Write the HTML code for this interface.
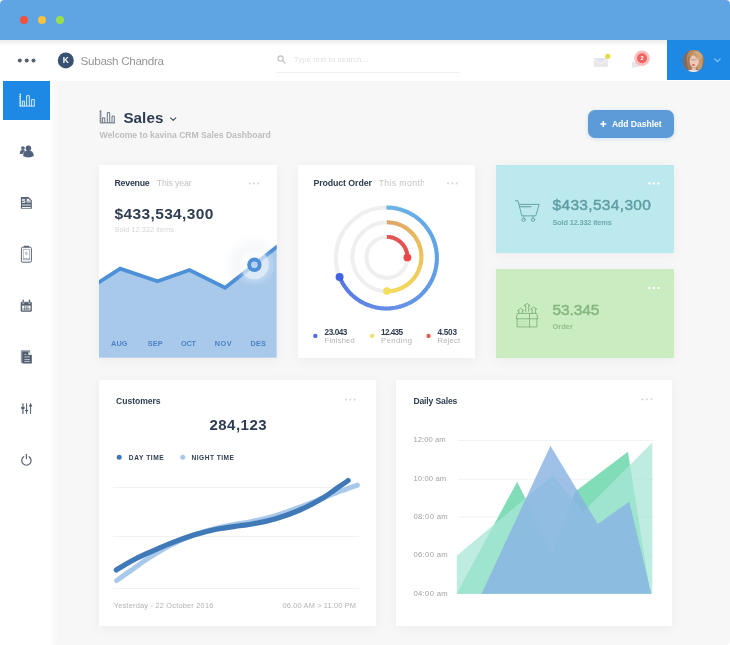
<!DOCTYPE html>
<html lang="en">
<head>
<meta charset="utf-8">
<title>kavina CRM Sales Dashboard</title>
<style>
html,body{margin:0;padding:0;}
body{width:730px;height:645px;overflow:hidden;background:#fff;font-family:"Liberation Sans",sans-serif;}
#app{position:relative;width:730px;height:645px;overflow:hidden;background:#f7f7f7;border-radius:4px;}
.abs{position:absolute;}
.t{position:absolute;line-height:20px;height:20px;white-space:nowrap;}
#titlebar{left:0;top:0;width:730px;height:40px;background:#60a5e3;border-radius:4px 4px 0 0;}
.dot{position:absolute;width:8px;height:8px;border-radius:50%;top:16px;}
#header{left:0;top:40px;width:730px;height:41px;background:#fff;}
#hshadow{left:0;top:40px;width:667px;height:6px;background:linear-gradient(#ececec,rgba(255,255,255,0));}
#sidebar{left:0;top:81px;width:50px;height:564px;background:#fff;}
#active{left:3px;top:81px;width:47px;height:39px;background:#1e88e5;}
#user{left:667px;top:40px;width:63px;height:40px;background:#1e88e5;}
.card{position:absolute;background:#fff;box-shadow:0 2px 12px rgba(0,0,0,0.05);}
#searchline{left:276px;top:72px;width:184px;height:1px;background:#f0f0f0;}
#addbtn{left:588px;top:110px;width:86px;height:28px;background:#5c9bd8;border-radius:7px;box-shadow:0 1px 4px rgba(92,155,216,0.25);}
svg{position:absolute;left:0;top:0;}
</style>
</head>
<body>
<div id="app">
<div class="abs" id="header"></div>
<div class="abs" id="hshadow"></div>
<div class="abs" id="titlebar">
  <div class="dot" style="left:20px;background:#f4513a"></div>
  <div class="dot" style="left:38px;background:#f9c13f"></div>
  <div class="dot" style="left:56px;background:#98df4f"></div>
</div>
<div class="abs" id="sidebar"></div>
<div class="abs" id="sbfade" style="left:50px;top:81px;width:9px;height:564px;background:linear-gradient(to right,rgba(255,255,255,0.8),rgba(255,255,255,0));"></div>
<div class="abs" id="active"></div>
<div class="abs" id="user"></div>
<div class="abs" id="searchline"></div>
<div class="abs" id="addbtn"></div>

<div class="card" id="c_rev" style="left:99px;top:165.300px;width:177.700px;height:192.500px;"></div>
<div class="card" id="c_po" style="left:298.200px;top:165.300px;width:176.800px;height:192.500px;"></div>
<div class="card" id="c_cyan" style="left:496px;top:165px;width:177.500px;height:88.300px;background:#bce9ed;"></div>
<div class="card" id="c_green" style="left:496px;top:268.700px;width:177.500px;height:89.300px;background:#c9ecc0;"></div>
<div class="card" id="c_cust" style="left:99.400px;top:380.400px;width:276.500px;height:246px;"></div>
<div class="card" id="c_daily" style="left:395.800px;top:380.400px;width:276.600px;height:246px;"></div>

<svg width="730" height="645" viewBox="0 0 730 645">
<defs>
<radialGradient id="halo" cx="0.5" cy="0.5" r="0.5">
 <stop offset="0" stop-color="#fff" stop-opacity="0"/>
 <stop offset="0.660" stop-color="#fff" stop-opacity="0"/>
 <stop offset="0.670" stop-color="#fff" stop-opacity="0.260"/>
 <stop offset="1" stop-color="#fff" stop-opacity="0"/>
</radialGradient>
<radialGradient id="haze" cx="0.5" cy="0.5" r="0.5">
 <stop offset="0" stop-color="#5a6f90" stop-opacity="0.080"/>
 <stop offset="0.450" stop-color="#5a6f90" stop-opacity="0.070"/>
 <stop offset="1" stop-color="#5a6f90" stop-opacity="0"/>
</radialGradient>
<clipPath id="abovec"><path d="M97 165H279V245L254.300 264.800L225.100 287.800L189.500 270L157.500 281.300L120.200 268.600L97 283.500z"/></clipPath>
<clipPath id="revclip"><rect x="99" y="165.300" width="177.700" height="192.500"/></clipPath>
</defs>

<!-- header: menu dots -->
<g fill="#56606e"><circle cx="19.800" cy="60.500" r="2"/><circle cx="26.700" cy="60.500" r="2"/><circle cx="33.500" cy="60.500" r="2"/></g>
<!-- K avatar -->
<circle cx="65.800" cy="60.400" r="8" fill="#3a5272"/>
<text x="65.900" y="63.300" font-size="8.400" font-weight="700" fill="#fff" text-anchor="middle" font-family="Liberation Sans, sans-serif">K</text>
<!-- search icon -->
<g fill="none" stroke="#c6c6c6" stroke-width="1.300"><circle cx="280.600" cy="58.600" r="2.600"/><path d="M282.6 60.7L285 63.2" stroke-linecap="round"/></g>

<!-- mail -->
<g>
 <rect x="594" y="58.300" width="13.800" height="8.600" rx="0.600" fill="#e8e8e8"/>
 <path d="M594 58.300h13.800l-6.900 5z" fill="#e2e2ec"/>
 <path d="M594 58.600L600.900 63.500L607.800 58.600" fill="none" stroke="#f6f6f8" stroke-width="0.900"/>
 <circle cx="607.800" cy="56.300" r="2.600" fill="#dde040"/>
</g>
<!-- notification -->
<g>
 <path d="M632 62h7.500v5h-5l-2.200 1.800v-1.800h-0.300z" fill="#e6e6e6"/>
 <circle cx="642" cy="58.300" r="7.800" fill="#f8b4b4" fill-opacity="0.850"/>
 <circle cx="642" cy="58.300" r="5" fill="#f06262"/>
 <text x="642" y="60.300" font-size="5.600" font-weight="700" fill="#fff" text-anchor="middle" font-family="Liberation Sans, sans-serif">2</text>
</g>
<!-- user avatar -->
<g>
 <clipPath id="avc"><ellipse cx="693.500" cy="61" rx="10.600" ry="11"/></clipPath>
 <filter id="avb" x="-20%" y="-20%" width="140%" height="140%"><feGaussianBlur stdDeviation="0.700"/></filter>
 <g clip-path="url(#avc)">
  <rect x="680" y="48" width="28" height="28" fill="#8d6f60"/>
  <g filter="url(#avb)">
   <rect x="680" y="48" width="9" height="28" fill="#7f6a64"/>
   <ellipse cx="695" cy="59" rx="8.500" ry="10.500" fill="#b88a62"/>
   <ellipse cx="697.500" cy="56" rx="5" ry="5.500" fill="#d2a777"/>
   <ellipse cx="689.500" cy="63" rx="2.200" ry="7" fill="#a87a55"/>
   <ellipse cx="699.800" cy="65" rx="2.400" ry="6" fill="#c59b6e"/>
   <ellipse cx="694.200" cy="61.200" rx="4.600" ry="6.300" fill="#ecc8b6"/>
   <ellipse cx="693.600" cy="59.800" rx="3.400" ry="0.700" fill="#c9a392"/>
   <path d="M689 57.500c1.500-3.500 4-4.500 6.500-4.500c1.500 2 2.500 4 2.500 7c-1.500-2.500-3-4.300-5-5c-1.500 0.500-3 1.500-4 2.500z" fill="#c4986a"/>
   <ellipse cx="693.500" cy="65" rx="1.600" ry="0.800" fill="#e2453d"/>
   <path d="M684 73.500c2-3 5.500-3.800 9.500-3.800s7 0.800 9 3.800v3h-18.500z" fill="#e9eef5"/>
   <ellipse cx="693.800" cy="69" rx="2.300" ry="1.800" fill="#e6c0ad"/>
  </g>
 </g>
</g>
<path d="M714.600 58.900L717.400 61.700L720.200 58.900" fill="none" stroke="#8ccbf9" stroke-width="1.100" stroke-linecap="round" stroke-linejoin="round"/>

<!-- Sales title icon -->
<g fill="none" stroke="#5a6675" stroke-width="0.900">
 <path d="M100.800 110.100v13.200"/>
 <path d="M99.400 111.300h1.400M99.400 113.100h1.400M99.400 114.900h1.400M99.400 116.700h1.400M99.400 118.500h1.400M99.400 120.300h1.400M99.400 122.100h1.400" stroke-width="0.700"/>
 <path d="M100.800 122.900h14.100"/>
 <path d="M102.600 122.900v-5.100h2.200v5.100M107.300 122.900v-10.300h2.400v10.300M112 122.900v-6.800h2.300v6.800"/>
</g>
<path d="M170.600 117.800L173.200 120.300L175.800 117.800" fill="none" stroke="#3a4a60" stroke-width="1.100" stroke-linecap="round" stroke-linejoin="round"/>
<!-- add button plus -->
<path d="M600.400 124h5.800M603.300 121.100v5.800" stroke="#fff" stroke-width="1.600"/>

<!-- sidebar active icon -->
<g fill="none" stroke="#d4ebff" stroke-width="1">
 <path d="M20.400 93.400v13.200"/>
 <path d="M18.900 94.700h1.500M18.900 96.500h1.500M18.900 98.400h1.500M18.900 100.200h1.500M18.900 102h1.500M18.900 103.800h1.500M18.900 105.600h1.500" stroke-width="0.800"/>
 <path d="M20.400 106.100h14.400"/>
 <path d="M22.400 106.100v-5h2v5M26.600 106.100v-10.400h2.700v10.400M31.600 106.100v-6.500h2.700v6.500"/>
</g>
<!-- users -->
<g fill="#50627e">
 <circle cx="22.900" cy="148.100" r="1.900" fill="#586a85"/>
 <path d="M19.700 153.900c0-2.800 1.300-4.100 3.200-4.100s3.200 1.300 3.200 4.100z" fill="#586a85"/>
 <g stroke="#fff" stroke-width="1">
  <circle cx="28.400" cy="148.200" r="2.700"/>
  <path d="M23.200 155.900c0-3.700 2.100-5.400 5.200-5.400s5.200 1.700 5.200 5.400c-1.400 0.900-3.200 1.300-5.200 1.300s-3.800-0.400-5.200-1.300z"/>
 </g>
 <circle cx="28.400" cy="148.200" r="2.700"/>
 <path d="M23.200 155.900c0-3.700 2.100-5.400 5.200-5.400s5.200 1.700 5.200 5.400c-1.400 0.900-3.200 1.300-5.200 1.300s-3.800-0.400-5.200-1.300z"/>
</g>
<!-- invoice doc -->
<g>
 <path d="M20.900 196.900h7.500l3.400 3.400v8.500h-10.900z" fill="#55616f"/>
 <path d="M25.100 199.300h-2.700v1.500h2.500v1.600h-2.800" fill="none" stroke="#fff" stroke-width="0.900"/>
 <path d="M26.600 198.800h2.100l2 2v1.600h-4.100z" fill="#eef1f4"/>
 <path d="M27 201.200h3.400" stroke="#6a7583" stroke-width="0.600"/>
 <path d="M22 205h8.700" stroke="#b3bac3" stroke-width="1.300"/>
 <path d="M22 207.600h8.700" stroke="#fff" stroke-width="1"/>
</g>
<!-- clipboard -->
<g fill="none">
 <rect x="21.400" y="247.200" width="10" height="15" rx="1.300" stroke="#5b6674" stroke-width="1"/>
 <path d="M24.300 246.500h4.300" stroke="#5b6674" stroke-width="1.400" stroke-linecap="round"/>
 <rect x="23.300" y="249.600" width="6.200" height="10.200" stroke="#a3abb6" stroke-width="0.800"/>
 <rect x="25" y="251.500" width="2.600" height="3.800" rx="1" fill="#c3cad4"/>
 <path d="M23.500 259.300l2-1l1.500 0.600h2.600" stroke="#6a7583" stroke-width="0.700"/>
</g>
<!-- calendar -->
<g>
 <rect x="20.700" y="301.800" width="11.100" height="9.900" rx="1.200" fill="#55616f"/>
 <path d="M23.200 300.100v3.200M29.500 300.100v3.200" stroke="#55616f" stroke-width="1.300" stroke-linecap="round"/>
 <path d="M22.300 301.800h0.200v1.700h1.400v-1.700h4.900v1.700h1.400v-1.700h0.200" fill="none" stroke="#fff" stroke-width="0.500" opacity="0.800"/>
 <rect x="22.100" y="305.600" width="8.400" height="4.800" fill="#fff"/>
 <path d="M24.600 305.600v4.800M26.300 305.600v4.800M28 305.600v4.800M22.100 308.900h8.400" stroke="#55616f" stroke-width="0.700"/>
</g>
<!-- docs -->
<g>
 <path d="M20.900 350.200h9.200v12.500h-9.200z" fill="#8c96a3"/>
 <path d="M22.400 351.700h6l3.400 3.400v8.500h-9.400z" fill="#4f5c6d"/>
 <path d="M28.400 351.700v3.400h3.400z" fill="#f4f6f8"/>
 <path d="M24.400 354.400h2M24.400 356.900h5.400M24.400 359.400h5.400M24.400 361.400h5.400" stroke="#dfe4ea" stroke-width="0.800"/>
</g>
<!-- sliders -->
<g>
 <path d="M22.900 403.300v10.600" stroke="#9099a6" stroke-width="1.900"/>
 <rect x="21" y="406.900" width="3.800" height="2" rx="0.800" fill="#55616f"/>
 <path d="M26.600 403.300v10.600M30.600 403.300v10.600" stroke="#55616f" stroke-width="1"/>
 <path d="M25.100 410.200h3l-1.500 2.400z" fill="#55616f"/>
 <rect x="25.100" y="409.800" width="3" height="1.200" fill="#55616f"/>
 <path d="M29.100 406h3l-1.500-2.400z" fill="#55616f"/>
 <rect x="29.100" y="405.300" width="3" height="1.200" fill="#55616f"/>
</g>
<!-- power -->
<g fill="none" stroke="#59636f" stroke-width="1.200" stroke-linecap="round">
 <path d="M23.700 456.700A4.700 4.700 0 1 0 29.100 456.700"/>
 <path d="M26.400 454.300v4.300"/>
</g>


<!-- card dots -->
<g fill="#d5dbe3">
 <circle cx="249.800" cy="183.400" r="1.100"/><circle cx="253.900" cy="183.400" r="1.100"/><circle cx="258" cy="183.400" r="1.100"/>
 <circle cx="448.100" cy="183.400" r="1.100"/><circle cx="452.400" cy="183.400" r="1.100"/><circle cx="456.700" cy="183.400" r="1.100"/>
 <circle cx="346" cy="399.600" r="1.100"/><circle cx="350.300" cy="399.600" r="1.100"/><circle cx="354.600" cy="399.600" r="1.100"/>
 <circle cx="642.400" cy="399.300" r="1.100"/><circle cx="646.900" cy="399.300" r="1.100"/><circle cx="651.400" cy="399.300" r="1.100"/>
</g>
<g fill="#ffffff">
 <circle cx="649.400" cy="183.400" r="1.200"/><circle cx="653.900" cy="183.400" r="1.200"/><circle cx="658.400" cy="183.400" r="1.200"/>
 <circle cx="649.400" cy="288" r="1.200"/><circle cx="653.900" cy="288" r="1.200"/><circle cx="658.400" cy="288" r="1.200"/>
</g>

<!-- revenue chart -->
<g clip-path="url(#revclip)">
 <path d="M97 283.500L120.200 268.600L157.500 281.300L189.500 270L225.100 287.800L254.300 264.800L279 245V358H97z" fill="#a9c9eb"/>
 <path d="M97 283.500L120.200 268.600L157.500 281.300L189.500 270L225.100 287.800L254.300 264.800L279 245" fill="none" stroke="#4e90d8" stroke-width="3.800" stroke-linejoin="miter"/>
 <g clip-path="url(#abovec)"><circle cx="254.400" cy="266" r="32" fill="url(#haze)"/></g>
 <circle cx="254.400" cy="264.800" r="21.500" fill="url(#halo)"/>
 <circle cx="254.400" cy="264.800" r="14.400" fill="#fff" fill-opacity="0.600"/>
 <circle cx="254.400" cy="264.800" r="5.300" fill="#b5d2f0" stroke="#4e8fd8" stroke-width="3.800"/>
</g>

<!-- donut -->
<circle cx="386.4" cy="258.0" r="50.5" fill="none" stroke="#efefef" stroke-width="4"/>
<circle cx="386.9" cy="256.8" r="34.5" fill="none" stroke="#efefef" stroke-width="4"/>
<circle cx="386.9" cy="257.4" r="20.5" fill="none" stroke="#efefef" stroke-width="4"/>
<path d="M386.40 207.50A50.5 50.5 0 0 1 390.63 207.68" stroke="#6cb4e6" stroke-width="4" fill="none"/>
<path d="M389.92 207.62A50.5 50.5 0 0 1 394.13 208.09" stroke="#6bb3e6" stroke-width="4" fill="none"/>
<path d="M393.43 207.99A50.5 50.5 0 0 1 397.59 208.75" stroke="#6bb2e6" stroke-width="4" fill="none"/>
<path d="M396.90 208.60A50.5 50.5 0 0 1 401.00 209.66" stroke="#6ab1e6" stroke-width="4" fill="none"/>
<path d="M400.32 209.46A50.5 50.5 0 0 1 404.33 210.79" stroke="#69b0e6" stroke-width="4" fill="none"/>
<path d="M403.67 210.55A50.5 50.5 0 0 1 407.58 212.16" stroke="#69afe6" stroke-width="4" fill="none"/>
<path d="M406.94 211.87A50.5 50.5 0 0 1 410.73 213.75" stroke="#68afe6" stroke-width="4" fill="none"/>
<path d="M410.11 213.41A50.5 50.5 0 0 1 413.76 215.55" stroke="#68aee6" stroke-width="4" fill="none"/>
<path d="M413.16 215.17A50.5 50.5 0 0 1 416.65 217.56" stroke="#67ade6" stroke-width="4" fill="none"/>
<path d="M416.08 217.14A50.5 50.5 0 0 1 419.40 219.77" stroke="#66ace6" stroke-width="4" fill="none"/>
<path d="M418.86 219.31A50.5 50.5 0 0 1 421.98 222.17" stroke="#66abe6" stroke-width="4" fill="none"/>
<path d="M421.48 221.67A50.5 50.5 0 0 1 424.40 224.74" stroke="#65aae6" stroke-width="4" fill="none"/>
<path d="M423.93 224.21A50.5 50.5 0 0 1 426.62 227.47" stroke="#65aae6" stroke-width="4" fill="none"/>
<path d="M426.19 226.91A50.5 50.5 0 0 1 428.66 230.35" stroke="#64a9e6" stroke-width="4" fill="none"/>
<path d="M428.27 229.76A50.5 50.5 0 0 1 430.48 233.36" stroke="#63a8e6" stroke-width="4" fill="none"/>
<path d="M430.13 232.75A50.5 50.5 0 0 1 432.09 236.50" stroke="#63a7e6" stroke-width="4" fill="none"/>
<path d="M431.79 235.86A50.5 50.5 0 0 1 433.48 239.74" stroke="#62a6e6" stroke-width="4" fill="none"/>
<path d="M433.22 239.08A50.5 50.5 0 0 1 434.64 243.07" stroke="#62a5e6" stroke-width="4" fill="none"/>
<path d="M434.43 242.39A50.5 50.5 0 0 1 435.57 246.47" stroke="#61a5e6" stroke-width="4" fill="none"/>
<path d="M435.40 245.78A50.5 50.5 0 0 1 436.25 249.93" stroke="#60a4e6" stroke-width="4" fill="none"/>
<path d="M436.13 249.23A50.5 50.5 0 0 1 436.69 253.42" stroke="#60a3e6" stroke-width="4" fill="none"/>
<path d="M436.62 252.72A50.5 50.5 0 0 1 436.89 256.94" stroke="#5fa2e6" stroke-width="4" fill="none"/>
<path d="M436.87 256.24A50.5 50.5 0 0 1 436.84 260.47" stroke="#5fa1e6" stroke-width="4" fill="none"/>
<path d="M436.87 259.76A50.5 50.5 0 0 1 436.54 263.98" stroke="#60a1e6" stroke-width="4" fill="none"/>
<path d="M436.62 263.28A50.5 50.5 0 0 1 436.01 267.46" stroke="#60a0e6" stroke-width="4" fill="none"/>
<path d="M436.13 266.77A50.5 50.5 0 0 1 435.22 270.90" stroke="#609fe6" stroke-width="4" fill="none"/>
<path d="M435.40 270.22A50.5 50.5 0 0 1 434.21 274.27" stroke="#619ee6" stroke-width="4" fill="none"/>
<path d="M434.43 273.61A50.5 50.5 0 0 1 432.95 277.57" stroke="#619de6" stroke-width="4" fill="none"/>
<path d="M433.22 276.92A50.5 50.5 0 0 1 431.48 280.77" stroke="#619ce6" stroke-width="4" fill="none"/>
<path d="M431.79 280.14A50.5 50.5 0 0 1 429.78 283.86" stroke="#629ce6" stroke-width="4" fill="none"/>
<path d="M430.13 283.25A50.5 50.5 0 0 1 427.87 286.82" stroke="#629be6" stroke-width="4" fill="none"/>
<path d="M428.27 286.24A50.5 50.5 0 0 1 425.76 289.64" stroke="#629ae6" stroke-width="4" fill="none"/>
<path d="M426.19 289.09A50.5 50.5 0 0 1 423.45 292.31" stroke="#6299e6" stroke-width="4" fill="none"/>
<path d="M423.93 291.79A50.5 50.5 0 0 1 420.97 294.81" stroke="#6398e6" stroke-width="4" fill="none"/>
<path d="M421.48 294.33A50.5 50.5 0 0 1 418.32 297.13" stroke="#6397e6" stroke-width="4" fill="none"/>
<path d="M418.86 296.69A50.5 50.5 0 0 1 415.51 299.27" stroke="#6397e6" stroke-width="4" fill="none"/>
<path d="M416.08 298.86A50.5 50.5 0 0 1 412.56 301.20" stroke="#6496e6" stroke-width="4" fill="none"/>
<path d="M413.16 300.83A50.5 50.5 0 0 1 409.48 302.92" stroke="#6495e6" stroke-width="4" fill="none"/>
<path d="M410.11 302.59A50.5 50.5 0 0 1 406.29 304.42" stroke="#6494e6" stroke-width="4" fill="none"/>
<path d="M406.94 304.13A50.5 50.5 0 0 1 403.01 305.69" stroke="#6593e6" stroke-width="4" fill="none"/>
<path d="M403.67 305.45A50.5 50.5 0 0 1 399.64 306.73" stroke="#6592e6" stroke-width="4" fill="none"/>
<path d="M400.32 306.54A50.5 50.5 0 0 1 396.21 307.54" stroke="#6592e6" stroke-width="4" fill="none"/>
<path d="M396.90 307.40A50.5 50.5 0 0 1 392.73 308.10" stroke="#6691e6" stroke-width="4" fill="none"/>
<path d="M393.43 308.01A50.5 50.5 0 0 1 389.22 308.42" stroke="#6690e6" stroke-width="4" fill="none"/>
<path d="M389.92 308.38A50.5 50.5 0 0 1 385.69 308.50" stroke="#658fe6" stroke-width="4" fill="none"/>
<path d="M386.40 308.50A50.5 50.5 0 0 1 382.17 308.32" stroke="#648de6" stroke-width="4" fill="none"/>
<path d="M382.88 308.38A50.5 50.5 0 0 1 378.67 307.91" stroke="#638ce6" stroke-width="4" fill="none"/>
<path d="M379.37 308.01A50.5 50.5 0 0 1 375.21 307.25" stroke="#628ae6" stroke-width="4" fill="none"/>
<path d="M375.90 307.40A50.5 50.5 0 0 1 371.80 306.34" stroke="#6189e6" stroke-width="4" fill="none"/>
<path d="M372.48 306.54A50.5 50.5 0 0 1 368.47 305.21" stroke="#6088e6" stroke-width="4" fill="none"/>
<path d="M369.13 305.45A50.5 50.5 0 0 1 365.22 303.84" stroke="#6086e6" stroke-width="4" fill="none"/>
<path d="M365.86 304.13A50.5 50.5 0 0 1 362.07 302.25" stroke="#5f85e6" stroke-width="4" fill="none"/>
<path d="M362.69 302.59A50.5 50.5 0 0 1 359.04 300.45" stroke="#5e84e6" stroke-width="4" fill="none"/>
<path d="M359.64 300.83A50.5 50.5 0 0 1 356.15 298.44" stroke="#5d82e6" stroke-width="4" fill="none"/>
<path d="M356.72 298.86A50.5 50.5 0 0 1 353.40 296.23" stroke="#5c81e6" stroke-width="4" fill="none"/>
<path d="M353.94 296.69A50.5 50.5 0 0 1 350.82 293.83" stroke="#5b80e6" stroke-width="4" fill="none"/>
<path d="M351.32 294.33A50.5 50.5 0 0 1 348.40 291.26" stroke="#5a7ee6" stroke-width="4" fill="none"/>
<path d="M348.87 291.79A50.5 50.5 0 0 1 346.18 288.53" stroke="#597de6" stroke-width="4" fill="none"/>
<path d="M346.61 289.09A50.5 50.5 0 0 1 344.14 285.65" stroke="#587ce6" stroke-width="4" fill="none"/>
<path d="M344.53 286.24A50.5 50.5 0 0 1 342.32 282.64" stroke="#577ae6" stroke-width="4" fill="none"/>
<path d="M342.67 283.25A50.5 50.5 0 0 1 340.71 279.50" stroke="#5679e6" stroke-width="4" fill="none"/>
<path d="M341.01 280.14A50.5 50.5 0 0 1 339.58 276.92" stroke="#5578e6" stroke-width="4" fill="none"/>
<path d="M386.90 222.30A34.5 34.5 0 0 1 389.79 222.42" stroke="#dea568" stroke-width="4" fill="none"/>
<path d="M389.31 222.38A34.5 34.5 0 0 1 392.18 222.71" stroke="#dfa667" stroke-width="4" fill="none"/>
<path d="M391.70 222.64A34.5 34.5 0 0 1 394.54 223.16" stroke="#e0a866" stroke-width="4" fill="none"/>
<path d="M394.07 223.05A34.5 34.5 0 0 1 396.87 223.77" stroke="#e0a965" stroke-width="4" fill="none"/>
<path d="M396.41 223.64A34.5 34.5 0 0 1 399.15 224.55" stroke="#e1aa64" stroke-width="4" fill="none"/>
<path d="M398.70 224.38A34.5 34.5 0 0 1 401.37 225.48" stroke="#e2ac64" stroke-width="4" fill="none"/>
<path d="M400.93 225.28A34.5 34.5 0 0 1 403.52 226.57" stroke="#e2ad63" stroke-width="4" fill="none"/>
<path d="M403.10 226.34A34.5 34.5 0 0 1 405.59 227.80" stroke="#e3af62" stroke-width="4" fill="none"/>
<path d="M405.18 227.54A34.5 34.5 0 0 1 407.57 229.17" stroke="#e4b061" stroke-width="4" fill="none"/>
<path d="M407.18 228.89A34.5 34.5 0 0 1 409.44 230.68" stroke="#e5b260" stroke-width="4" fill="none"/>
<path d="M409.08 230.37A34.5 34.5 0 0 1 411.21 232.32" stroke="#e5b360" stroke-width="4" fill="none"/>
<path d="M410.87 231.98A34.5 34.5 0 0 1 412.86 234.08" stroke="#e6b45f" stroke-width="4" fill="none"/>
<path d="M412.54 233.71A34.5 34.5 0 0 1 414.38 235.94" stroke="#e7b65e" stroke-width="4" fill="none"/>
<path d="M414.09 235.56A34.5 34.5 0 0 1 415.77 237.91" stroke="#e7b75d" stroke-width="4" fill="none"/>
<path d="M415.50 237.51A34.5 34.5 0 0 1 417.02 239.97" stroke="#e8b95d" stroke-width="4" fill="none"/>
<path d="M416.78 239.55A34.5 34.5 0 0 1 418.12 242.11" stroke="#e9ba5c" stroke-width="4" fill="none"/>
<path d="M417.91 241.68A34.5 34.5 0 0 1 419.07 244.32" stroke="#e9bc5b" stroke-width="4" fill="none"/>
<path d="M418.89 243.88A34.5 34.5 0 0 1 419.86 246.60" stroke="#eabd5a" stroke-width="4" fill="none"/>
<path d="M419.71 246.14A34.5 34.5 0 0 1 420.49 248.92" stroke="#ebbe59" stroke-width="4" fill="none"/>
<path d="M420.38 248.45A34.5 34.5 0 0 1 420.96 251.28" stroke="#ebc059" stroke-width="4" fill="none"/>
<path d="M420.88 250.81A34.5 34.5 0 0 1 421.26 253.67" stroke="#ecc158" stroke-width="4" fill="none"/>
<path d="M421.21 253.19A34.5 34.5 0 0 1 421.39 256.08" stroke="#ecc258" stroke-width="4" fill="none"/>
<path d="M421.38 255.60A34.5 34.5 0 0 1 421.36 258.49" stroke="#edc458" stroke-width="4" fill="none"/>
<path d="M421.38 258.00A34.5 34.5 0 0 1 421.16 260.88" stroke="#edc558" stroke-width="4" fill="none"/>
<path d="M421.21 260.41A34.5 34.5 0 0 1 420.79 263.26" stroke="#edc658" stroke-width="4" fill="none"/>
<path d="M420.88 262.79A34.5 34.5 0 0 1 420.26 265.61" stroke="#edc758" stroke-width="4" fill="none"/>
<path d="M420.38 265.15A34.5 34.5 0 0 1 419.56 267.92" stroke="#eec859" stroke-width="4" fill="none"/>
<path d="M419.71 267.46A34.5 34.5 0 0 1 418.70 270.17" stroke="#eec959" stroke-width="4" fill="none"/>
<path d="M418.89 269.72A34.5 34.5 0 0 1 417.69 272.36" stroke="#eecb59" stroke-width="4" fill="none"/>
<path d="M417.91 271.92A34.5 34.5 0 0 1 416.53 274.47" stroke="#efcc59" stroke-width="4" fill="none"/>
<path d="M416.78 274.05A34.5 34.5 0 0 1 415.23 276.49" stroke="#efcd59" stroke-width="4" fill="none"/>
<path d="M415.50 276.09A34.5 34.5 0 0 1 413.79 278.42" stroke="#efce59" stroke-width="4" fill="none"/>
<path d="M414.09 278.04A34.5 34.5 0 0 1 412.21 280.24" stroke="#efcf59" stroke-width="4" fill="none"/>
<path d="M412.54 279.89A34.5 34.5 0 0 1 410.52 281.95" stroke="#f0d159" stroke-width="4" fill="none"/>
<path d="M410.87 281.62A34.5 34.5 0 0 1 408.71 283.54" stroke="#f0d259" stroke-width="4" fill="none"/>
<path d="M409.08 283.23A34.5 34.5 0 0 1 406.79 284.99" stroke="#f0d359" stroke-width="4" fill="none"/>
<path d="M407.18 284.71A34.5 34.5 0 0 1 404.77 286.31" stroke="#f1d459" stroke-width="4" fill="none"/>
<path d="M405.18 286.06A34.5 34.5 0 0 1 402.67 287.48" stroke="#f1d559" stroke-width="4" fill="none"/>
<path d="M403.10 287.26A34.5 34.5 0 0 1 400.49 288.51" stroke="#f1d659" stroke-width="4" fill="none"/>
<path d="M400.93 288.32A34.5 34.5 0 0 1 398.25 289.38" stroke="#f1d85a" stroke-width="4" fill="none"/>
<path d="M398.70 289.22A34.5 34.5 0 0 1 395.95 290.09" stroke="#f2d95a" stroke-width="4" fill="none"/>
<path d="M396.41 289.96A34.5 34.5 0 0 1 393.60 290.64" stroke="#f2da5a" stroke-width="4" fill="none"/>
<path d="M394.07 290.55A34.5 34.5 0 0 1 391.22 291.03" stroke="#f2db5a" stroke-width="4" fill="none"/>
<path d="M391.70 290.96A34.5 34.5 0 0 1 388.83 291.25" stroke="#f3dc5a" stroke-width="4" fill="none"/>
<path d="M389.31 291.22A34.5 34.5 0 0 1 386.90 291.30" stroke="#f3dd5a" stroke-width="4" fill="none"/>
<path d="M386.90 236.90A20.5 20.5 0 0 1 388.58 236.97" stroke="#df5252" stroke-width="4" fill="none"/>
<path d="M388.30 236.95A20.5 20.5 0 0 1 389.97 237.13" stroke="#df5151" stroke-width="4" fill="none"/>
<path d="M389.69 237.09A20.5 20.5 0 0 1 391.35 237.39" stroke="#e05151" stroke-width="4" fill="none"/>
<path d="M391.07 237.33A20.5 20.5 0 0 1 392.71 237.74" stroke="#e05151" stroke-width="4" fill="none"/>
<path d="M392.43 237.66A20.5 20.5 0 0 1 394.03 238.18" stroke="#e05050" stroke-width="4" fill="none"/>
<path d="M393.77 238.08A20.5 20.5 0 0 1 395.33 238.71" stroke="#e15050" stroke-width="4" fill="none"/>
<path d="M395.07 238.60A20.5 20.5 0 0 1 396.58 239.33" stroke="#e15050" stroke-width="4" fill="none"/>
<path d="M396.33 239.20A20.5 20.5 0 0 1 397.79 240.03" stroke="#e14f4f" stroke-width="4" fill="none"/>
<path d="M397.55 239.88A20.5 20.5 0 0 1 398.95 240.82" stroke="#e24f4f" stroke-width="4" fill="none"/>
<path d="M398.72 240.65A20.5 20.5 0 0 1 400.06 241.68" stroke="#e24f4f" stroke-width="4" fill="none"/>
<path d="M399.84 241.50A20.5 20.5 0 0 1 401.10 242.61" stroke="#e24e4e" stroke-width="4" fill="none"/>
<path d="M400.89 242.42A20.5 20.5 0 0 1 402.08 243.62" stroke="#e24e4e" stroke-width="4" fill="none"/>
<path d="M401.88 243.41A20.5 20.5 0 0 1 402.98 244.69" stroke="#e34e4e" stroke-width="4" fill="none"/>
<path d="M402.80 244.46A20.5 20.5 0 0 1 403.81 245.81" stroke="#e34d4d" stroke-width="4" fill="none"/>
<path d="M403.65 245.58A20.5 20.5 0 0 1 404.56 246.99" stroke="#e34d4d" stroke-width="4" fill="none"/>
<path d="M404.42 246.75A20.5 20.5 0 0 1 405.23 248.22" stroke="#e44d4d" stroke-width="4" fill="none"/>
<path d="M405.10 247.97A20.5 20.5 0 0 1 405.82 249.50" stroke="#e44c4c" stroke-width="4" fill="none"/>
<path d="M405.70 249.23A20.5 20.5 0 0 1 406.31 250.81" stroke="#e44c4c" stroke-width="4" fill="none"/>
<path d="M406.22 250.53A20.5 20.5 0 0 1 406.72 252.15" stroke="#e54c4c" stroke-width="4" fill="none"/>
<path d="M406.64 251.87A20.5 20.5 0 0 1 407.03 253.51" stroke="#e54b4b" stroke-width="4" fill="none"/>
<path d="M406.97 253.23A20.5 20.5 0 0 1 407.25 254.89" stroke="#e54b4b" stroke-width="4" fill="none"/>
<path d="M407.21 254.61A20.5 20.5 0 0 1 407.37 256.29" stroke="#e64b4b" stroke-width="4" fill="none"/>
<path d="M407.35 256.00A20.5 20.5 0 0 1 407.40 257.40" stroke="#e64a4a" stroke-width="4" fill="none"/>
<circle cx="339.58" cy="276.92" r="4" fill="#4262e4"/>
<circle cx="386.90" cy="291.00" r="3.7" fill="#f3dd5c"/>
<circle cx="407.40" cy="257.40" r="3.9" fill="#ea4848"/>
<g>
 <circle cx="315.300" cy="335.900" r="2.200" fill="#4f6fe0"/>
 <circle cx="372.200" cy="335.900" r="2.200" fill="#f2e06e"/>
 <circle cx="428.500" cy="335.900" r="2.200" fill="#ea5a5a"/>
</g>

<!-- cart icon -->
<g fill="none" stroke="#5f9da3" stroke-width="0.900" stroke-linecap="round" stroke-linejoin="round">
 <path d="M515.400 200.800h2.600l3.800 15.100h13.900l3.500-11.500h-19.600"/>
 <path d="M520 206.700h11" stroke-width="1.100"/>
 <circle cx="523.600" cy="219.700" r="1.700"/><circle cx="533" cy="219.700" r="1.700"/>
 <path d="M523.600 215.900v2.100M533 215.900v2.100" stroke-width="0.600"/>
</g>
<!-- box icon -->
<g fill="none" stroke="#7fae77" stroke-width="0.850" stroke-linecap="round" stroke-linejoin="round">
 <path d="M517.100 318.400v8.500h19.800v-8.500"/>
 <path d="M516.200 318.400l1.200-5h19.200l1.200 5z"/>
 <path d="M529.500 313.400v13.500"/>
 <path d="M518.900 313.400v-2.700h-1.500l3.300-2.300l3.200 2.300h-1.500v2.700"/>
 <path d="M525.700 311.300v-5.600h-1.800l3.300-2.300l2.900 2.300h-1.500v5.600"/>
 <path d="M532.200 313.400v-4.100h-1.500l2.900-2.400l3.300 2.400h-1.500v4.100"/>
 <path d="M519 321.500h8M519 324h8" stroke-width="0.400" opacity="0.600"/>
</g>

<!-- customers chart -->
<g stroke="#f1f1f1" stroke-width="1">
 <path d="M113 487.500H359M113 536.500H359M113 588.500H359"/>
</g>
<circle cx="119.200" cy="457.300" r="2.500" fill="#3f78b6"/>
<circle cx="182.800" cy="457.300" r="2.500" fill="#a9c9ea"/>
<path d="M116.7 580.5C119.7 578.4 129.9 571.2 134.9 567.7C139.9 564.2 140.7 563.2 146.5 559.5C152.3 555.8 162.1 549.7 169.8 545.6C177.6 541.5 185.2 538.0 193.0 535.1C200.8 532.2 208.6 530.0 216.3 528.1C224.1 526.2 233.3 524.6 239.5 523.5C245.7 522.4 247.1 522.7 253.3 521.3C259.5 519.9 268.8 517.6 276.5 515.3C284.2 512.9 292.1 510.1 299.8 507.2C307.6 504.3 317.2 500.2 323.0 497.9C328.8 495.6 330.8 494.8 334.7 493.3C338.6 491.8 342.5 490.5 346.3 489.1C350.1 487.7 355.5 485.8 357.4 485.1" fill="none" stroke="#a9c9ea" stroke-width="5" stroke-linecap="round"/>
<path d="M116.3 570.0C118.8 568.5 126.0 563.9 131.0 561.2C136.0 558.5 140.0 556.6 146.5 553.7C153.0 550.8 162.1 546.7 169.8 543.6C177.6 540.5 185.2 537.7 193.0 535.3C200.8 532.9 208.6 530.9 216.3 529.3C224.1 527.7 233.3 526.7 239.5 525.8C245.7 524.9 247.1 525.0 253.3 523.8C259.5 522.6 268.8 520.7 276.5 518.4C284.2 516.1 292.1 513.4 299.8 510.0C307.6 506.6 317.2 501.3 323.0 497.9C328.8 494.5 330.5 492.7 334.7 489.8C338.9 486.9 345.9 482.1 348.1 480.5" fill="none" stroke="#4079b7" stroke-width="5.200" stroke-linecap="round"/>

<!-- daily sales chart -->
<g stroke="#f1f1f1" stroke-width="1">
 <path d="M458 440.400H654M458 479.200H654M458 517H654"/><path d="M458 555.500H654" opacity="0.500"/>
</g>
<g>
 <path d="M456.600 593.700L517.200 481.700L552.300 553.500L575.300 491.500L627.900 451.800L650.300 593.700z" fill="#62d4a6" fill-opacity="0.8"/>
 <path d="M456.800 555.700L493.400 525.100L552.800 475.200L583 512L652.300 442.600V593.700H456.800z" fill="#aae6d7" fill-opacity="0.750"/>
 <path d="M481.600 593.700L550.400 445.700L597.700 524L629.300 501.700L651.300 593.700z" fill="#87b2e2" fill-opacity="0.800"/>
</g>
</svg>

<div class="t" id="t_name" style="left:80.6px;top:50.5px;font-size:11.7px;font-weight:400;color:#969696;letter-spacing:-0.333px;">Subash Chandra</div>
<div class="t" id="t_search" style="left:293.8px;top:49.5px;font-size:7.6px;font-weight:400;color:#dfdfdf;letter-spacing:0.200px;">Type text to search...</div>
<div class="t" id="t_sales" style="left:123.4px;top:108.3px;font-size:15.2px;font-weight:700;color:#2e3d54;letter-spacing:0.074px;">Sales</div>
<div class="t" id="t_sub" style="left:99.6px;top:125.0px;font-size:8.6px;font-weight:700;color:#bdbdbd;letter-spacing:-0.003px;">Welcome to kavina CRM Sales Dashboard</div>
<div class="t" id="t_add" style="left:611.9px;top:114.2px;font-size:8.6px;font-weight:700;color:#ffffff;letter-spacing:-0.034px;">Add Dashlet</div>
<div class="t" id="t_rev" style="left:114.5px;top:173.0px;font-size:8.8px;font-weight:700;color:#2f3d52;letter-spacing:-0.245px;">Revenue</div>
<div class="t" id="t_year" style="left:156.7px;top:173.0px;font-size:8.8px;font-weight:400;color:#c4c4c4;letter-spacing:-0.136px;">This year</div>
<div class="t" id="t_revn" style="left:114.5px;top:203.8px;font-size:15.5px;font-weight:700;color:#2f3d52;letter-spacing:0.370px;">$433,534,300</div>
<div class="t" id="t_sold" style="left:114.5px;top:219.8px;font-size:7.4px;font-weight:400;color:#d6d6d6;letter-spacing:0.014px;">Sold 12.332 items</div>
<div class="t" id="t_aug" style="left:111.1px;top:333.9px;font-size:7.3px;font-weight:700;color:#4b83c6;letter-spacing:0.091px;">AUG</div>
<div class="t" id="t_sep" style="left:147.8px;top:333.9px;font-size:7.3px;font-weight:700;color:#4b83c6;letter-spacing:0.145px;">SEP</div>
<div class="t" id="t_oct" style="left:180.9px;top:333.9px;font-size:7.3px;font-weight:700;color:#4b83c6;letter-spacing:-0.153px;">OCT</div>
<div class="t" id="t_nov" style="left:214.7px;top:333.9px;font-size:7.3px;font-weight:700;color:#4b83c6;letter-spacing:0.544px;">NOV</div>
<div class="t" id="t_des" style="left:250.4px;top:333.9px;font-size:7.3px;font-weight:700;color:#4b83c6;letter-spacing:0.292px;">DES</div>
<div class="t" id="t_po" style="left:313.4px;top:173.2px;font-size:8.8px;font-weight:700;color:#2f3d52;letter-spacing:-0.095px;">Product Order</div>
<div class="t" id="t_month" style="left:378.6px;top:173.2px;font-size:8.8px;font-weight:400;color:#c4c4c4;letter-spacing:0.343px;width:45.3px;overflow:hidden;">This month</div>
<div class="t" id="t_n1" style="left:324.6px;top:322.9px;font-size:8.2px;font-weight:700;color:#2f3d52;letter-spacing:-0.449px;">23.043</div>
<div class="t" id="t_l1" style="left:324.6px;top:330.6px;font-size:7.6px;font-weight:400;color:#b4b4b4;letter-spacing:0.200px;">Finished</div>
<div class="t" id="t_n2" style="left:381.1px;top:322.9px;font-size:8.2px;font-weight:700;color:#2f3d52;letter-spacing:-0.609px;">12.435</div>
<div class="t" id="t_l2" style="left:381.1px;top:330.6px;font-size:7.6px;font-weight:400;color:#b4b4b4;letter-spacing:0.488px;">Pending</div>
<div class="t" id="t_n3" style="left:437.4px;top:322.9px;font-size:8.2px;font-weight:700;color:#2f3d52;letter-spacing:-0.225px;">4.503</div>
<div class="t" id="t_l3" style="left:437.4px;top:330.6px;font-size:7.6px;font-weight:400;color:#b4b4b4;letter-spacing:0.254px;">Reject</div>
<div class="t" id="t_cn" style="left:552.5px;top:195.3px;font-size:15.5px;font-weight:400;color:#5f9ea4;letter-spacing:0.325px;-webkit-text-stroke:0.45px #5f9ea4;">$433,534,300</div>
<div class="t" id="t_cs" style="left:552.5px;top:213.2px;font-size:7.4px;font-weight:700;color:#6fabb1;letter-spacing:-0.171px;">Sold 12.332 items</div>
<div class="t" id="t_gn" style="left:552.5px;top:300.2px;font-size:15.5px;font-weight:400;color:#85b77d;letter-spacing:-0.124px;-webkit-text-stroke:0.45px #85b77d;">53.345</div>
<div class="t" id="t_gs" style="left:552.5px;top:317.0px;font-size:7.4px;font-weight:700;color:#8fbe88;letter-spacing:0.040px;">Order</div>
<div class="t" id="t_cust" style="left:116.0px;top:390.8px;font-size:8.6px;font-weight:700;color:#2f3d52;letter-spacing:-0.036px;">Customers</div>
<div class="t" id="t_cnum" style="left:209.4px;top:415.3px;font-size:15.0px;font-weight:700;color:#2f3d52;letter-spacing:0.494px;">284,123</div>
<div class="t" id="t_day" style="left:128.8px;top:447.8px;font-size:6.6px;font-weight:700;color:#2f3d52;letter-spacing:0.588px;">DAY TIME</div>
<div class="t" id="t_night" style="left:191.5px;top:447.8px;font-size:6.6px;font-weight:700;color:#2f3d52;letter-spacing:0.488px;">NIGHT TIME</div>
<div class="t" id="t_yest" style="left:113.7px;top:595.6px;font-size:7.4px;font-weight:400;color:#b2b2b2;letter-spacing:0.210px;">Yesterday - 22 October 2016</div>
<div class="t" id="t_time" style="left:282.5px;top:595.6px;font-size:7.4px;font-weight:400;color:#b2b2b2;letter-spacing:0.154px;">06.00 AM > 11.00 PM</div>
<div class="t" id="t_daily" style="left:413.4px;top:391.2px;font-size:8.6px;font-weight:700;color:#2f3d52;letter-spacing:-0.139px;">Daily Sales</div>
<div class="t" id="t_y1" style="left:413.4px;top:430.1px;font-size:7.7px;font-weight:400;color:#a3a3a3;letter-spacing:0.034px;">12:00 am</div>
<div class="t" id="t_y2" style="left:413.4px;top:468.9px;font-size:7.7px;font-weight:400;color:#a3a3a3;letter-spacing:0.105px;">10:00 am</div>
<div class="t" id="t_y3" style="left:413.4px;top:506.7px;font-size:7.7px;font-weight:400;color:#a3a3a3;letter-spacing:0.320px;">08:00 am</div>
<div class="t" id="t_y4" style="left:413.4px;top:544.6px;font-size:7.7px;font-weight:400;color:#a3a3a3;letter-spacing:0.320px;">06:00 am</div>
<div class="t" id="t_y5" style="left:413.4px;top:583.5px;font-size:7.7px;font-weight:400;color:#a3a3a3;letter-spacing:0.320px;">04:00 am</div>
</div>
</body>
</html>
